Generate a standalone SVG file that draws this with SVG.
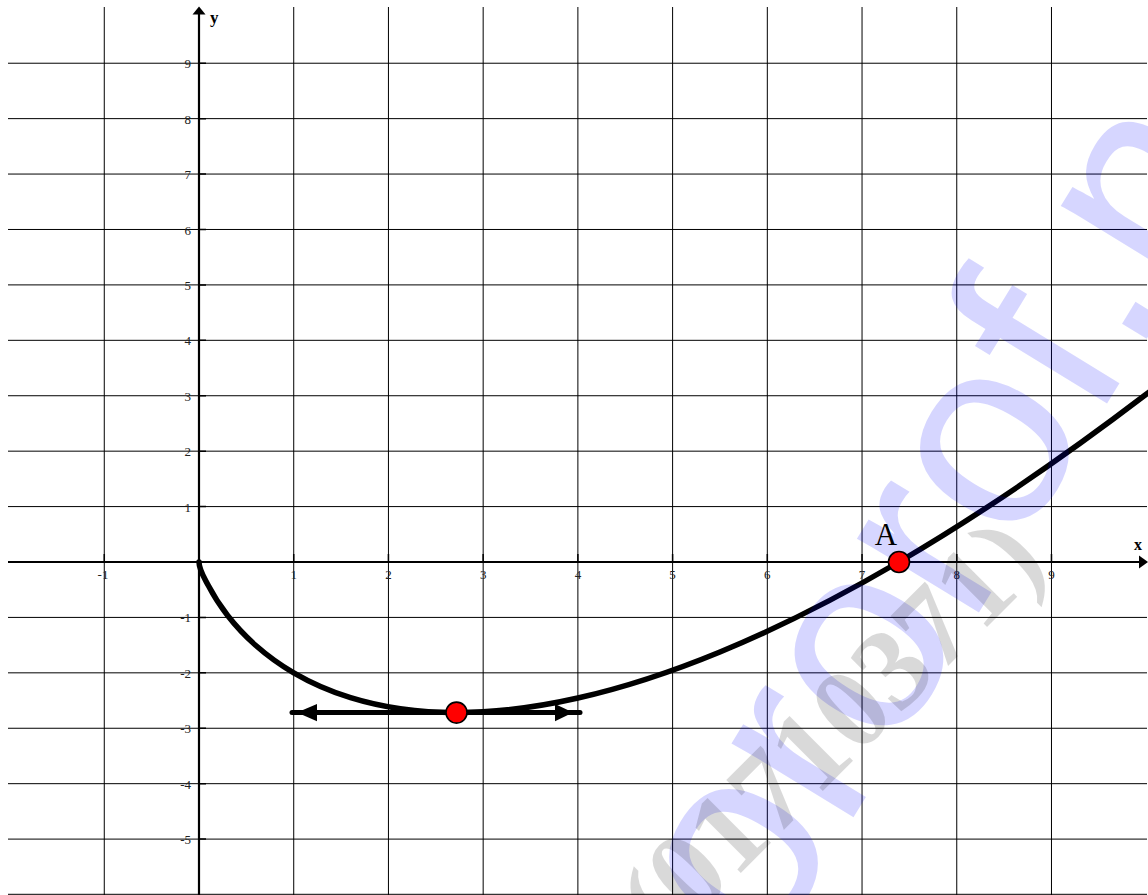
<svg xmlns="http://www.w3.org/2000/svg" width="1148" height="895" viewBox="0 0 1148 895">
<style>
.grid line{stroke:#000;stroke-width:1}
.tick{stroke:#000;stroke-width:1.5}
.num{font-family:"Liberation Serif","Times New Roman",serif;font-size:13px;fill:#222}
.xn{text-anchor:middle}
.yn{text-anchor:end}
.axl{font-family:"Liberation Serif","Times New Roman",serif;font-weight:bold;fill:#000}
.pt{fill:#ff0000;stroke:#000;stroke-width:1.6}
</style>
<rect x="0" y="0" width="1148" height="895" fill="#fff"/>
<g id="grid" class="grid">
<line x1="104.28" y1="7" x2="104.28" y2="895"/>
<line x1="293.72" y1="7" x2="293.72" y2="895"/>
<line x1="388.44" y1="7" x2="388.44" y2="895"/>
<line x1="483.16" y1="7" x2="483.16" y2="895"/>
<line x1="577.88" y1="7" x2="577.88" y2="895"/>
<line x1="672.6" y1="7" x2="672.6" y2="895"/>
<line x1="767.32" y1="7" x2="767.32" y2="895"/>
<line x1="862.04" y1="7" x2="862.04" y2="895"/>
<line x1="956.76" y1="7" x2="956.76" y2="895"/>
<line x1="1051.48" y1="7" x2="1051.48" y2="895"/>
<line x1="8" y1="63.22" x2="1147" y2="63.22"/>
<line x1="8" y1="118.64" x2="1147" y2="118.64"/>
<line x1="8" y1="174.06" x2="1147" y2="174.06"/>
<line x1="8" y1="229.48" x2="1147" y2="229.48"/>
<line x1="8" y1="284.9" x2="1147" y2="284.9"/>
<line x1="8" y1="340.32" x2="1147" y2="340.32"/>
<line x1="8" y1="395.74" x2="1147" y2="395.74"/>
<line x1="8" y1="451.16" x2="1147" y2="451.16"/>
<line x1="8" y1="506.58" x2="1147" y2="506.58"/>
<line x1="8" y1="617.42" x2="1147" y2="617.42"/>
<line x1="8" y1="672.84" x2="1147" y2="672.84"/>
<line x1="8" y1="728.26" x2="1147" y2="728.26"/>
<line x1="8" y1="783.68" x2="1147" y2="783.68"/>
<line x1="8" y1="839.1" x2="1147" y2="839.1"/>
<line x1="8" y1="894.3" x2="1147" y2="894.3"/>
</g>
<g id="ticks">
<path class="tick" d="M104.28 554V562M293.72 554V562M388.44 554V562M483.16 554V562M577.88 554V562M672.6 554V562M767.32 554V562M862.04 554V562M956.76 554V562M1051.48 554V562"/>
<path class="tick" d="M199 63.22H206M199 118.64H206M199 174.06H206M199 229.48H206M199 284.9H206M199 340.32H206M199 395.74H206M199 451.16H206M199 506.58H206M199 617.42H206M199 672.84H206M199 728.26H206M199 783.68H206M199 839.1H206"/>
</g>
<g id="axes">
<line x1="8" y1="562" x2="1141" y2="562" stroke="#000" stroke-width="2.2"/>
<polygon points="1148,562 1139,555.5 1139,568.5" fill="#000"/>
<line x1="199" y1="895" x2="199" y2="12" stroke="#000" stroke-width="2.2"/>
<polygon points="199,6.5 192.5,14.5 205.5,14.5" fill="#000"/>
<text class="axl" x="1134" y="550" font-size="16">x</text>
<text class="axl" x="210" y="23" font-size="17">y</text>
</g>
<g id="tick-labels">
<text class="num xn" x="103" y="579">-1</text>
<text class="num xn" x="293.72" y="579">1</text>
<text class="num xn" x="388.44" y="579">2</text>
<text class="num xn" x="483.16" y="579">3</text>
<text class="num xn" x="577.88" y="579">4</text>
<text class="num xn" x="672.6" y="579">5</text>
<text class="num xn" x="767.32" y="579">6</text>
<text class="num xn" x="862.04" y="579">7</text>
<text class="num xn" x="956.76" y="579">8</text>
<text class="num xn" x="1051.48" y="579">9</text>
<text class="num yn" x="191" y="68">9</text>
<text class="num yn" x="191" y="123.5">8</text>
<text class="num yn" x="191" y="179">7</text>
<text class="num yn" x="191" y="234.5">6</text>
<text class="num yn" x="191" y="290">5</text>
<text class="num yn" x="191" y="345.3">4</text>
<text class="num yn" x="191" y="400.7">3</text>
<text class="num yn" x="191" y="456.2">2</text>
<text class="num yn" x="191" y="511.6">1</text>
<text class="num yn" x="191" y="622.4">-1</text>
<text class="num yn" x="191" y="677.8">-2</text>
<text class="num yn" x="191" y="733.3">-3</text>
<text class="num yn" x="191" y="788.7">-4</text>
<text class="num yn" x="191" y="844.1">-5</text>
</g>
<g id="curve">
<path d="M199 562C199 569.95 204.36 577.9 208.47 585.85C214.79 598.05 221.1 607.13 227.42 615.27C236.89 627.48 246.36 637.12 255.83 645.49C268.46 656.65 281.09 665.45 293.72 672.84C312.66 683.92 331.61 691.79 350.55 697.67C385.86 708.62 421.17 712.65 456.48 712.65C496.94 712.65 537.41 707.19 577.88 698.05C625.24 687.34 672.6 671.52 719.96 652C779.6 627.4 839.25 596.9 898.89 562C981.33 513.77 1063.76 457.14 1146.2 394.31L1150 391.4" fill="none" stroke="#000" stroke-width="5.5" stroke-linejoin="round" stroke-linecap="round"/>
</g>
<g id="tangent">
<line x1="292" y1="712.6" x2="580" y2="712.6" stroke="#000" stroke-width="5" stroke-linecap="round"/>
<polygon points="297,712.6 317,704 317,721.2" fill="#000"/>
<polygon points="573,712.6 555,704 555,721.2" fill="#000"/>
</g>
<g id="watermark" pointer-events="none">
<text transform="translate(686.8,1089.3) rotate(-58.5)" font-family="'Liberation Sans',Arial,sans-serif" font-size="270" fill="#0000ff" fill-opacity="0.16">nororof.net</text>
<text transform="translate(666,947.8) rotate(-45)" font-family="'Liberation Serif','Times New Roman',serif" font-weight="bold" font-size="116" fill="#000" fill-opacity="0.15">(01710371)</text>
</g>
<g id="point-min">
<circle class="pt" cx="456.5" cy="712.6" r="10.5"/>
</g>
<g id="point-A">
<circle class="pt" cx="899" cy="562" r="10.5"/>
<text x="886" y="545" text-anchor="middle" font-family="'Liberation Serif','Times New Roman',serif" font-size="31" fill="#000">A</text>
</g>
</svg>
